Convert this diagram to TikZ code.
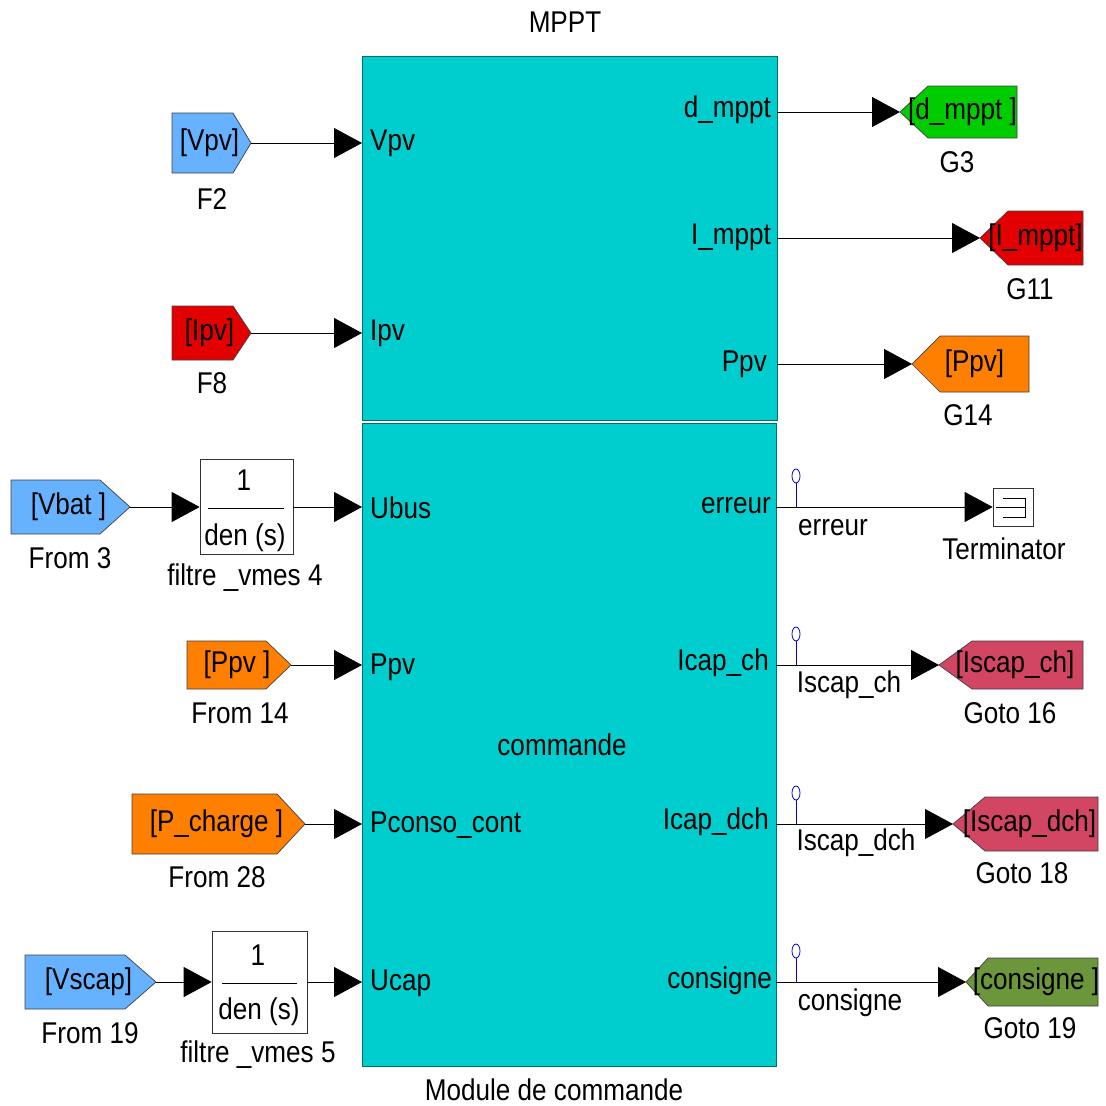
\documentclass[tikz,border=0pt]{standalone}
\usepackage{fontspec}
\setmainfont{Liberation Sans}[FakeStretch=0.87]
\usetikzlibrary{arrows.meta}
\definecolor{blkcyan}{RGB}{0,206,206}
\definecolor{blkedge}{RGB}{0,110,110}
\definecolor{fromblue}{RGB}{102,178,255}
\definecolor{sigred}{RGB}{226,0,0}
\definecolor{sigorange}{RGB}{255,128,0}
\definecolor{siggreen}{RGB}{0,204,0}
\definecolor{sigpink}{RGB}{210,70,100}
\definecolor{sigolive}{RGB}{108,150,60}
\definecolor{tpblue}{RGB}{0,0,210}
\tikzset{
  every node/.style={font=\fontsize{30}{33}\selectfont, inner sep=0pt},
  sig/.style={line width=0.8pt, -{Triangle[length=28pt,width=30pt]}},
  tagbox/.style={line width=0.7pt, draw=black!75},
  bigblk/.style={draw=blkedge, line width=0.8pt, fill=blkcyan},
  tfbox/.style={draw=black!80, line width=0.7pt, fill=white},
  tpline/.style={draw=tpblue, line width=0.8pt},
}
% from block: name, xl, xs, xt, yt, yb, color, text
\newcommand\fromblk[8]{%
  \filldraw[tagbox, fill=#7] (#2,#5) -- (#3,#5) -- (#4,{(#5+#6)/2}) -- (#3,#6) -- (#2,#6) -- cycle;
  \coordinate (#1) at (#4,{(#5+#6)/2});
  \node (#1-t) at ({(#2+#4)/2-2},{(#5+#6)/2}) {#8};}
% goto block: name, xt, xs, xr, yt, yb, color, text
\newcommand\gotoblk[8]{%
  \filldraw[tagbox, fill=#7] (#2,{(#5+#6)/2}) -- (#3,#5) -- (#4,#5) -- (#4,#6) -- (#3,#6) -- cycle;
  \coordinate (#1) at (#2,{(#5+#6)/2});
  \node (#1-t) at ({(#2+#4)/2+4},{(#5+#6)/2}) {#8};}
% test point: x, y
\newcommand\testpt[2]{%
  \draw[tpline] (#1,#2) -- (#1,{#2-24});
  \draw[tpline, fill=white] (#1,{#2-31}) ellipse [x radius=4, y radius=7];}
\begin{document}
\begin{tikzpicture}[x=1pt,y=-1pt]
\useasboundingbox (0,0) rectangle (1106,1106);

% main blocks
\node[bigblk, minimum width=415pt, minimum height=364pt] (mppt) at (569.5,238) {};
\node[bigblk, minimum width=414pt, minimum height=643pt] (cmd) at (569,744.5) {};
\node (mppttitle) at (565,22) {MPPT};
\node (cmdtitle) at (554,1090) {Module de commande};
\node (cmdname) at (562,745) {commande};

% ports
\coordinate (pVpv) at (362,143);
\coordinate (pIpv) at (362,333);
\coordinate (pUbus) at (362,507);
\coordinate (pPpvin) at (362,665);
\coordinate (pPcons) at (362,824);
\coordinate (pUcap) at (362,982);
\coordinate (oD) at (777,112);
\coordinate (oI) at (777,238);
\coordinate (oP) at (777,364);
\coordinate (oErr) at (776,507);
\coordinate (oCh) at (776,665);
\coordinate (oDch) at (776,824);
\coordinate (oCons) at (776,982);

% port labels
\node[anchor=west] (lVpv) at (370,143) {Vpv};
\node[anchor=west] (lIpv) at (370,333) {Ipv};
\node[anchor=west] (lUbus) at (370,508) {Ubus};
\node[anchor=west] (lPpvin) at (370,667) {Ppv};
\node[anchor=west] (lPcons) at (370,825) {Pconso\_cont};
\node[anchor=west] (lUcap) at (370,983) {Ucap};
\node[anchor=east] (lD) at (771,110) {d\_mppt};
\node[anchor=east] (lI) at (771,237) {I\_mppt};
\node[anchor=east] (lP) at (767,364) {Ppv};
\node[anchor=east] (lErr) at (771,506) {erreur};
\node[anchor=east] (lCh) at (769,663) {Icap\_ch};
\node[anchor=east] (lDch) at (769,822) {Icap\_dch};
\node[anchor=east] (lCons) at (772,981) {consigne};

% from blocks
\fromblk{fVpv}{172}{233}{251}{113}{173}{fromblue}{[Vpv]}
\node (nF2) at (212,199) {F2};
\fromblk{fIpv}{172}{233}{251}{306}{360}{sigred}{[Ipv]}
\node (nF8) at (212,383) {F8};
\fromblk{fVbat}{11}{100}{130}{480}{534}{fromblue}{[Vbat ]}
\node (nFrom3) at (70,558) {From 3};
\fromblk{fPpv}{187}{266}{291}{641}{689}{sigorange}{[Ppv ]}
\node (nFrom14) at (240,713) {From 14};
\fromblk{fPch}{132}{277}{305}{794}{854}{sigorange}{[P\_charge ]}
\node (nFrom28) at (217,877) {From 28};
\fromblk{fVscap}{25}{125}{156}{955}{1009}{fromblue}{[Vscap]}
\node (nFrom19) at (90,1033) {From 19};

% transfer functions
\node[tfbox, minimum width=93pt, minimum height=95pt] (tf4) at (246.5,507) {};
\node (tf4num) at (244,480) {1};
\draw[line width=0.7pt] (208,508) -- (284,508);
\node (tf4den) at (245,538) {den (s)};
\node (tf4lab) at (245,578) {filtre \_vmes 4};
\node[tfbox, minimum width=95pt, minimum height=102pt] (tf5) at (259.5,982) {};
\node (tf5num) at (258,955) {1};
\draw[line width=0.7pt] (222,983) -- (297,983);
\node (tf5den) at (259,1012) {den (s)};
\node (tf5lab) at (258,1055) {filtre \_vmes 5};

% goto blocks
\gotoblk{gD}{900}{928}{1017}{86}{138}{siggreen}{[d\_mppt ]}
\node (nG3) at (957,162) {G3};
\gotoblk{gI}{980}{1008}{1083}{211}{265}{sigred}{[I\_mppt]}
\node (nG11) at (1030,289) {G11};
\gotoblk{gP}{912}{940}{1029}{336}{392}{sigorange}{[Ppv]}
\node (nG14) at (968,415) {G14};
\gotoblk{gCh}{939}{972}{1083}{641}{689}{sigpink}{[Iscap\_ch]}
\node (nG16) at (1010,713) {Goto 16};
\gotoblk{gDch}{953}{985}{1098}{797}{851}{sigpink}{[Iscap\_dch]}
\node (nG18) at (1022,873) {Goto 18};
\gotoblk{gCons}{966}{988}{1098}{958}{1006}{sigolive}{[consigne ]}
\node (nG19) at (1030,1028) {Goto 19};

% terminator
\node[tfbox, minimum width=40pt, minimum height=38pt] (term) at (1013,507) {};
\draw[line width=0.7pt] (1003,498) -- (1025,498) -- (1025,517) -- (1003,517);
\draw[line width=0.7pt] (996,507) -- (1025,507);
\node (nTerm) at (1004,549) {Terminator};

% connectors
\draw[sig] (fVpv) -- (pVpv);
\draw[sig] (fIpv) -- (pIpv);
\draw[sig] (fVbat) -- (tf4.west);
\draw[sig] (tf4.east) -- (pUbus);
\draw[sig] (fPpv) -- (pPpvin);
\draw[sig] (fPch) -- (pPcons);
\draw[sig] (fVscap) -- (tf5.west);
\draw[sig] (tf5.east) -- (pUcap);
\draw[sig] (oD) -- (gD);
\draw[sig] (oI) -- (gI);
\draw[sig] (oP) -- (gP);
\draw[sig] (oErr) -- (term.west);
\draw[sig] (oCh) -- (gCh);
\draw[sig] (oDch) -- (gDch);
\draw[sig] (oCons) -- (gCons);

% test points and signal names
\testpt{796}{507}
\testpt{796}{665}
\testpt{796}{824}
\testpt{796}{982}
\node (sErr) at (833,528) {erreur};
\node (sCh) at (849,685) {Iscap\_ch};
\node (sDch) at (856,843) {Iscap\_dch};
\node (sCons) at (850,1003) {consigne};
\end{tikzpicture}
\end{document}
